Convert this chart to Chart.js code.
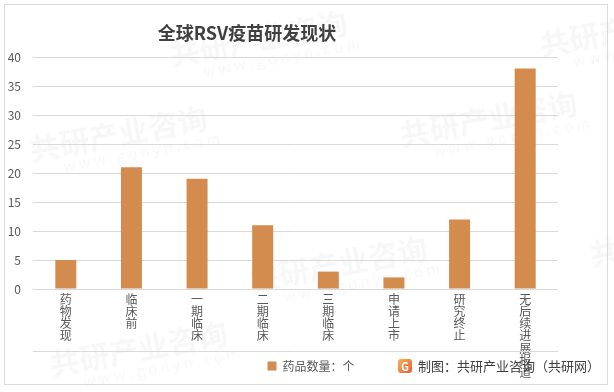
<!DOCTYPE html>
<html>
<head>
<meta charset="utf-8">
<script src="https://cdn.jsdelivr.net/npm/chart.js@4/dist/chart.umd.min.js"></script>
<style>
  html, body { margin: 0; padding: 0; background: #fff; }
  #wrap { width: 614px; height: 392px; }
</style>
</head>
<body>
<div id="wrap"><canvas id="chart1" width="614" height="392"></canvas></div>
<script>
// data
const chartTitle = "全球RSV疫苗研发现状";
const stages = ["药物发现", "临床前", "一期临床", "二期临床", "三期临床", "申请上市", "研究终止", "无后续进展报道"];
const drugCounts = [5, 21, 19, 11, 3, 2, 12, 38];
const seriesName = "药品数量：个";
const yMax = 40;
const yStep = 5;
const sourceNote = "制图：共研产业咨询（共研网）";

const CJK = '"Noto Sans CJK SC", "Noto Sans", sans-serif';
const textGrey = "#595959";
const barColor = "#d38b4e";

// frame, title, separator line, source note and faint watermarks
const decor = {
  id: "decor",
  afterLayout(chart) {
    // the x labels need a tall scale (the last one runs past the legend),
    // so put the legend back where the reference has it
    const lg = chart.legend;
    const h = lg.height;
    lg.top = 350;
    lg.bottom = 350 + h;
    lg.left += 32;
    lg.right += 32;
  },
  beforeDraw(chart) {
    const ctx = chart.ctx;
    ctx.save();
    ctx.fillStyle = "#fff";
    ctx.fillRect(0, 0, chart.width, chart.height);
    // watermarks
    ctx.fillStyle = "rgba(180,180,180,0.10)";
    const marks = [[170, 55], [540, 45], [30, 150], [400, 135], [250, 280], [590, 255], [50, 365]];
    marks.forEach(([x, y]) => {
      ctx.save();
      ctx.translate(x, y);
      ctx.rotate(-0.18);
      ctx.font = "bold 30px " + CJK;
      ctx.fillText("共研产业咨询", 0, 0);
      ctx.font = "15px " + CJK;
      ctx.fillText("w w w . g o n y n . c o m", 30, 22);
      ctx.restore();
    });
    ctx.restore();
  },
  afterDraw(chart) {
    const ctx = chart.ctx;
    ctx.save();
    // outer frame
    ctx.strokeStyle = "#d9d9d9";
    ctx.lineWidth = 1;
    ctx.strokeRect(4.5, 4.5, 603, 380);
    // title
    ctx.fillStyle = "#404040";
    ctx.font = "bold 18px " + CJK;
    ctx.textAlign = "center";
    ctx.textBaseline = "middle";
    ctx.fillText(chartTitle, 247, 33);
    // line under the category labels
    ctx.strokeStyle = "#d9d9d9";
    ctx.beginPath();
    ctx.moveTo(chart.chartArea.left, 351.5);
    ctx.lineTo(chart.chartArea.right, 351.5);
    ctx.stroke();
    // logo
    const g = ctx.createLinearGradient(398, 359, 412, 373);
    g.addColorStop(0, "#f7b04f");
    g.addColorStop(1, "#ea5f3a");
    ctx.fillStyle = g;
    ctx.beginPath();
    ctx.roundRect(398, 359, 14, 14, 3);
    ctx.fill();
    ctx.fillStyle = "#fff";
    ctx.font = "bold 11px " + CJK;
    ctx.fillText("G", 405, 366.5);
    // source note
    ctx.fillStyle = "#404040";
    ctx.font = "13px " + CJK;
    ctx.textAlign = "left";
    ctx.fillText(sourceNote, 418, 366);
    ctx.restore();
  }
};

new Chart(document.getElementById("chart1"), {
  type: "bar",
  data: {
    labels: stages.map((s) => s.split("")),
    datasets: [
      {
        label: seriesName,
        data: drugCounts,
        backgroundColor: barColor,
        borderWidth: 0,
        barPercentage: 0.32,
        categoryPercentage: 1,
      },
    ],
  },
  options: {
    responsive: false,
    animation: false,
    layout: { padding: { left: 0, right: 56, top: 57, bottom: -29 } },
    plugins: {
      title: { display: false },
      tooltip: { enabled: false },
      legend: {
        position: "bottom",
        labels: {
          boxWidth: 9,
          boxHeight: 9,
          padding: 10,
          color: textGrey,
          font: { family: CJK, size: 12 },
        },
      },
    },
    scales: {
      x: {
        grid: { display: false, drawTicks: false },
        border: { display: false },
        afterFit: (scale) => { scale.height = 100; },
        ticks: {
          color: textGrey,
          padding: 4,
          maxRotation: 0,
          autoSkip: false,
          font: { family: CJK, size: 12, lineHeight: 1.02 },
        },
      },
      y: {
        min: 0,
        max: yMax,
        afterFit: (scale) => { scale.width = 33; },
        grid: { color: "#d9d9d9", drawTicks: false },
        border: { display: false },
        ticks: {
          stepSize: yStep,
          padding: 12,
          color: textGrey,
          font: { family: CJK, size: 12 },
        },
      },
    },
  },
  plugins: [decor],
});
</script>
</body>
</html>
